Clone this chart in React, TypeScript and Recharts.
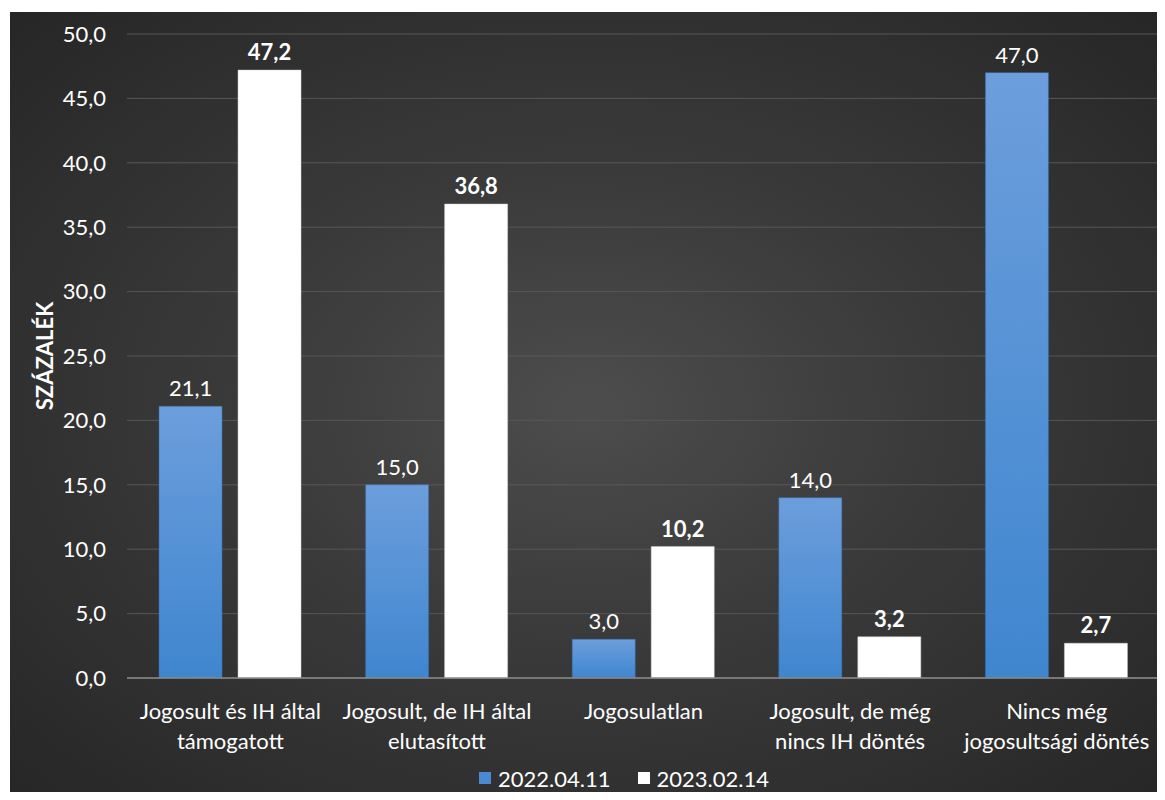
import React from 'react';
import { BarChart, Bar, XAxis, YAxis, CartesianGrid, Legend, LabelList } from 'recharts';

const categories = [
  'Jogosult és IH által\ntámogatott',
  'Jogosult, de IH által\nelutasított',
  'Jogosulatlan',
  'Jogosult, de még\nnincs IH döntés',
  'Nincs még\njogosultsági döntés',
];
const series2022 = [21.1, 15.0, 3.0, 14.0, 47.0];
const series2023 = [47.2, 36.8, 10.2, 3.2, 2.7];
const yTicks = [0, 5, 10, 15, 20, 25, 30, 35, 40, 45, 50];

const FONT = 'Lato, "Open Sans", sans-serif';
const fmt = (v: number) => v.toFixed(1).replace('.', ',');

const data = categories.map((name, i) => ({ name, a: series2022[i], b: series2023[i] }));

const CategoryTick = (props: any) => {
  const { x, y, payload } = props;
  const lines = String(payload.value).split('\n');
  return (
    <g transform={`translate(${x},${y})`}>
      {lines.map((line, i) => (
        <text key={i} x={0} y={25 + i * 30} dy="0.35em" textAnchor="middle" fill="#ffffff" fontSize={22} fontFamily={FONT}>
          {line}
        </text>
      ))}
    </g>
  );
};

const LegendContent = () => (
  <div style={{ display: 'flex', justifyContent: 'center', alignItems: 'center', gap: 27, fontFamily: FONT, fontSize: 22, color: '#fff', height: 30, paddingLeft: 78 }}>
    <span style={{ display: 'flex', alignItems: 'center' }}>
      <span style={{ width: 12, height: 12, background: '#4a8ad3', marginRight: 7, display: 'inline-block' }} />
      2022.04.11
    </span>
    <span style={{ display: 'flex', alignItems: 'center' }}>
      <span style={{ width: 12, height: 12, background: '#ffffff', marginRight: 7, display: 'inline-block' }} />
      2023.02.14
    </span>
  </div>
);

export default function App() {
  return (
    <div style={{ position: 'relative', width: 1165, height: 800, margin: -8, background: '#fff' }}>
      <div
        style={{
          position: 'absolute',
          left: 10,
          top: 12,
          width: 1155,
          height: 788,
          background: 'radial-gradient(ellipse at 50% 50%, #4d4d4d 0%, #3b3b3b 40%, #262626 100%)',
        }}
      >
        <BarChart
          width={1155}
          height={788}
          data={data}
          margin={{ top: 22, right: 5, left: 0, bottom: 7 }}
          barCategoryGap="15.5%"
          barGap={16}
        >
          <defs>
            <linearGradient id="blueGrad" x1="0" y1="0" x2="0" y2="1">
              <stop offset="0%" stopColor="#6c9edc" />
              <stop offset="100%" stopColor="#3f86cf" />
            </linearGradient>
          </defs>
          <CartesianGrid vertical={false} stroke="#575757" strokeWidth={1} />
          <XAxis
            dataKey="name"
            interval={0}
            height={85}
            tick={<CategoryTick />}
            tickLine={false}
            axisLine={{ stroke: '#8a8a8a', strokeWidth: 1.5 }}
          />
          <YAxis
            width={117}
            domain={[0, 50]}
            ticks={yTicks}
            tickFormatter={fmt}
            tickLine={false}
            axisLine={false}
            tickMargin={15}
            tick={{ fill: '#ffffff', fontSize: 22, fontFamily: FONT }}
            label={{
              value: 'SZÁZALÉK',
              angle: -90,
              position: 'insideLeft',
              dx: 30,
              style: { fill: '#ffffff', fontSize: 22, fontWeight: 700, fontFamily: FONT, textAnchor: 'middle' },
            }}
          />
          <Legend verticalAlign="bottom" align="center" content={<LegendContent />} wrapperStyle={{ height: 30 }} />
          <Bar dataKey="a" name="2022.04.11" fill="url(#blueGrad)" stroke="#3570b0" strokeWidth={0.5} isAnimationActive={false}>
            <LabelList dataKey="a" position="top" offset={10} formatter={(v: any) => fmt(Number(v))} fill="#ffffff" fontSize={22} fontFamily={FONT} />
          </Bar>
          <Bar dataKey="b" name="2023.02.14" fill="#ffffff" stroke="#d0d0d0" strokeWidth={0.5} isAnimationActive={false}>
            <LabelList dataKey="b" position="top" offset={10} formatter={(v: any) => fmt(Number(v))} fill="#ffffff" fontSize={22} fontWeight={700} fontFamily={FONT} />
          </Bar>
        </BarChart>
      </div>
    </div>
  );
}
